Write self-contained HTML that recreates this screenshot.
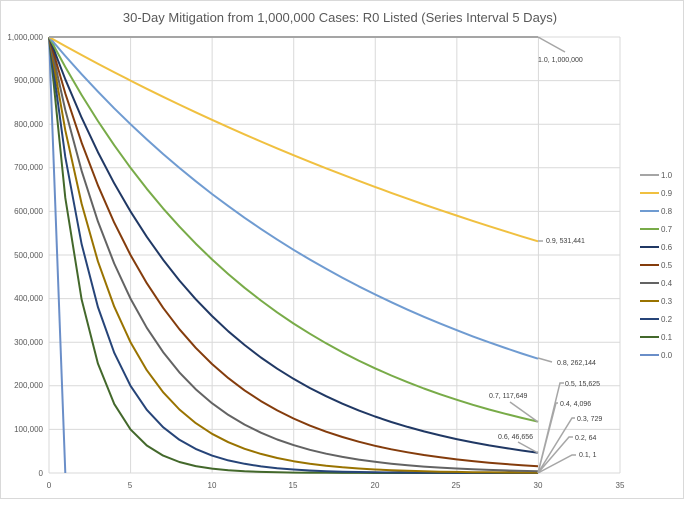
<!DOCTYPE html>
<html><head><meta charset="utf-8"><style>
html,body{margin:0;padding:0;background:#fff;}
svg{display:block;font-family:"Liberation Sans",sans-serif;}
</style></head><body>
<svg id="s" width="691" height="506" viewBox="0 0 691 506">
<rect x="0.5" y="0.5" width="683" height="498" fill="#fff" stroke="#d9d9d9"/>
<text x="340" y="22" text-anchor="middle" font-size="13" fill="#595959">30-Day Mitigation from 1,000,000 Cases: R0 Listed (Series Interval 5 Days)</text>
<g id="grid" stroke="#d9d9d9" stroke-width="1"></g>
<g font-size="8" fill="#595959" text-anchor="end">
<text x="43" y="40">1,000,000</text><text x="43" y="83">900,000</text><text x="43" y="127">800,000</text>
<text x="43" y="170">700,000</text><text x="43" y="214">600,000</text><text x="43" y="258">500,000</text>
<text x="43" y="301">400,000</text><text x="43" y="345">300,000</text><text x="43" y="388">200,000</text>
<text x="43" y="432">100,000</text><text x="43" y="476">0</text>
</g>
<g font-size="8" fill="#595959" text-anchor="middle">
<text x="49" y="488">0</text><text x="130" y="488">5</text><text x="212" y="488">10</text><text x="293" y="488">15</text>
<text x="375" y="488">20</text><text x="456" y="488">25</text><text x="538" y="488">30</text><text x="620" y="488">35</text>
</g>
<g id="series" fill="none" stroke-width="2"></g>
<g stroke="#a6a6a6" stroke-width="1.5" fill="none">
<path d="M538 37 L565 52"/><path d="M538 241 L543 241"/><path d="M538 358 L552 362"/>
<path d="M538 422 L510 402"/><path d="M538 453 L518 442"/>
<path d="M538 473 L560 383 L564 383"/><path d="M538 473 L556 403 L558 403"/><path d="M538 473 L572 418 L575 418"/>
<path d="M538 473 L569 437 L573 437"/><path d="M538 473 L572 455 L576 455"/>
</g>
<g font-size="7" fill="#404040">
<text x="538" y="62">1.0, 1,000,000</text>
<text x="546" y="243">0.9, 531,441</text>
<text x="557" y="365">0.8, 262,144</text>
<text x="489" y="398">0.7, 117,649</text>
<text x="498" y="439">0.6, 46,656</text>
<text x="565" y="386">0.5, 15,625</text>
<text x="560" y="406">0.4, 4,096</text>
<text x="577" y="421">0.3, 729</text>
<text x="575" y="440">0.2, 64</text>
<text x="579" y="457">0.1, 1</text>
</g>
<g id="legend" stroke-width="2"></g>
<g font-size="8" fill="#595959">
<text x="661" y="178">1.0</text><text x="661" y="196">0.9</text><text x="661" y="214">0.8</text>
<text x="661" y="232">0.7</text><text x="661" y="250">0.6</text><text x="661" y="268">0.5</text>
<text x="661" y="286">0.4</text><text x="661" y="304">0.3</text><text x="661" y="322">0.2</text>
<text x="661" y="340">0.1</text><text x="661" y="358">0.0</text>
</g>
</svg>
<script>
var ns="http://www.w3.org/2000/svg";
function el(p,t,a){var e=document.createElementNS(ns,t);for(var k in a)e.setAttribute(k,a[k]);p.appendChild(e);return e;}
var g=document.getElementById("grid");
for(var i=0;i<=10;i++){var y=37+i*43.6;el(g,"line",{x1:49,x2:620,y1:y,y2:y});}
for(var i=0;i<=7;i++){var x=49+i*81.57;el(g,"line",{x1:x,x2:x,y1:37,y2:473});}
var R=[1.0,0.9,0.8,0.7,0.6,0.5,0.4,0.3,0.2,0.1,0.0];
var C=["#a5a5a5","#f0c040","#6f9bd1","#78ab48","#203864","#843c0c","#636363","#997300","#264478","#43682b","#6a8ec8"];
var s=document.getElementById("series"),L=document.getElementById("legend");
for(var j=R.length-1;j>=0;j--){
 var d="";
 for(var t=0;t<=30;t++){var v=R[j]==0?(t==0?1e6:0):1e6*Math.pow(R[j],t/5);
  if(R[j]==0&&t>1)break;
  d+=(t?"L":"M")+(49+t*16.3).toFixed(1)+" "+(473-v*0.000436).toFixed(1);}
 el(s,"path",{d:d,stroke:C[j],"stroke-linejoin":"round"});
}
for(var j=0;j<R.length;j++){var y=175+j*18;el(L,"line",{x1:640,x2:659,y1:y,y2:y,stroke:C[j]});}
</script>
</body></html>
